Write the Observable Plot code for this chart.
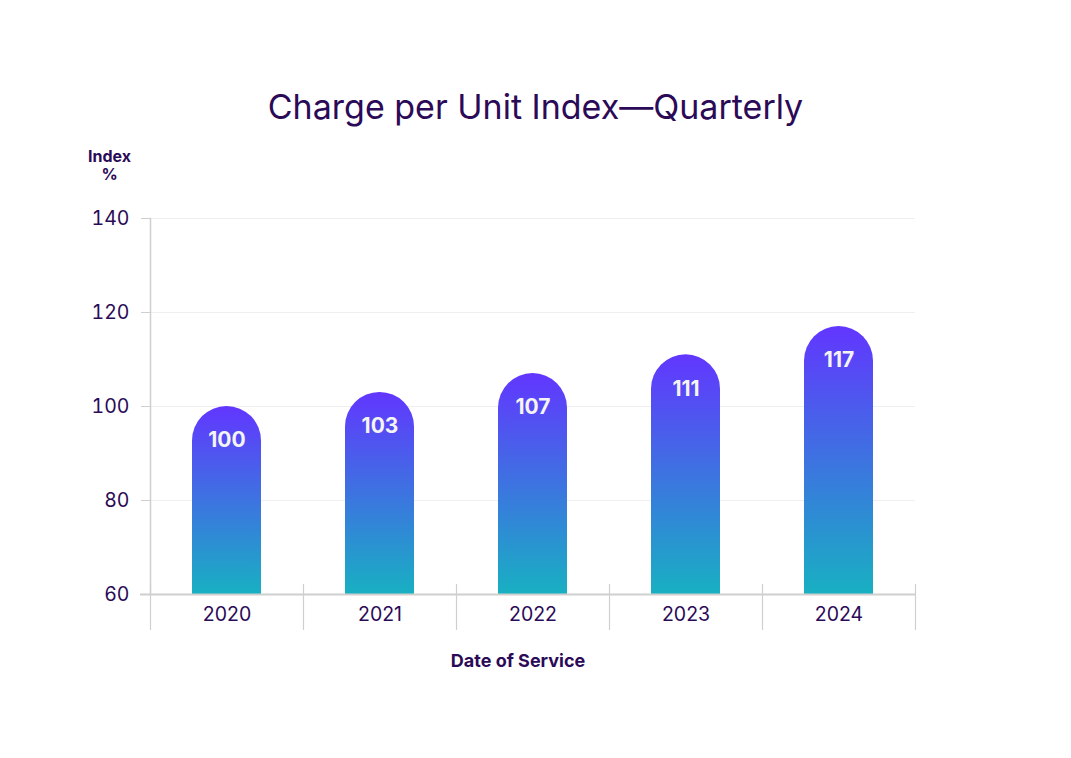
<!DOCTYPE html>
<html>
<head>
<meta charset="utf-8">
<script src="https://cdn.jsdelivr.net/npm/d3@7"></script>
<script src="https://cdn.jsdelivr.net/npm/@observablehq/plot@0.6"></script>
<style>
  html, body { margin: 0; padding: 0; background: #ffffff; }
  #wrap { width: 1071px; height: 758px; position: relative; overflow: hidden; }
  #title { position: absolute; left: 0; top: 88px; width: 1071px; text-align: center;
           font-family: Inter, "Noto Sans", sans-serif; font-weight: 400; font-size: 34px;
           line-height: 38px; color: #2b0a57; }
  #chart { position: absolute; left: 0; top: 140px; }
</style>
</head>
<body>
<div id="wrap">
  <div id="title">Charge per Unit Index—Quarterly</div>
  <div id="chart"></div>
</div>
<script>
// ---- data ----
const years = ["2020", "2021", "2022", "2023", "2024"];
const values = [100, 103, 107, 111, 117];
const yTicks = [60, 80, 100, 120, 140];
const yLabel = "Index\n%";
const xLabel = "Date of Service";

const data = years.map((year, i) => ({year, value: values[i]}));

const W = 1071, H = 560;
const mL = 150, mR = 156, mT = 78, mB = 106;
const step = (W - mL - mR) / years.length;
const ink = "#2b0a57";
const axisGray = "#cfcfcf";

const defs = () => {
  const ns = "http://www.w3.org/2000/svg";
  const d = document.createElementNS(ns, "defs");
  const g = document.createElementNS(ns, "linearGradient");
  g.setAttribute("id", "barGrad");
  g.setAttribute("x1", "0"); g.setAttribute("y1", "0");
  g.setAttribute("x2", "0"); g.setAttribute("y2", "1");
  [["0%", "#6236ff"], ["100%", "#18b0c2"]].forEach(([o, c]) => {
    const s = document.createElementNS(ns, "stop");
    s.setAttribute("offset", o); s.setAttribute("stop-color", c);
    g.appendChild(s);
  });
  d.appendChild(g);
  return d;
};

const chart = Plot.plot({
  width: W, height: H,
  marginLeft: mL, marginRight: mR, marginTop: mT, marginBottom: mB,
  style: {fontFamily: "Inter, 'Noto Sans', sans-serif", color: ink, background: "transparent"},
  x: {domain: years, paddingInner: 0.55, paddingOuter: 0.275, axis: null},
  y: {domain: [60, 140], axis: null},
  marks: [
    defs,
    Plot.gridY(yTicks, {stroke: "#efefef", strokeOpacity: 1}),
    Plot.frame({anchor: "left", stroke: axisGray, strokeWidth: 1.5}),
    Plot.axisY(yTicks, {tickSize: 9, tickPadding: 12, stroke: axisGray, fill: ink, fontSize: 19.5, label: null, tickFormat: d => String(d)}),
    Plot.ruleX(years, {x: d => d, dx: -step / 2, stroke: axisGray, strokeWidth: 1.2, insetTop: 366, insetBottom: -36}),
    Plot.ruleX([years[years.length - 1]], {x: d => d, dx: step / 2, stroke: axisGray, strokeWidth: 1.2, insetTop: 366, insetBottom: -36}),
    Plot.barY(data, {x: "year", y1: 60, y2: "value", fill: "url(#barGrad)", ry1: 34.5}),
    Plot.ruleY([60], {stroke: axisGray, strokeWidth: 2, insetLeft: -10}),
    Plot.axisX({tickSize: 0, tickPadding: 13, fill: ink, fontSize: 19.5, label: null}),
    Plot.text(data, {x: "year", y: "value", text: d => String(d.value), dy: 34, fill: "#f4f4f4", fontSize: 21, fontWeight: 700}),
    Plot.text([yLabel], {frameAnchor: "top-left", dx: -41, dy: -70, lineAnchor: "top", lineHeight: 1.15, fontSize: 16, fontWeight: 700, fill: ink, textAnchor: "middle"}),
    Plot.text([xLabel], {frameAnchor: "bottom", dx: -15, dy: 72, fontSize: 18, fontWeight: 700, fill: ink})
  ]
});
document.getElementById("chart").appendChild(chart);
</script>
</body>
</html>
